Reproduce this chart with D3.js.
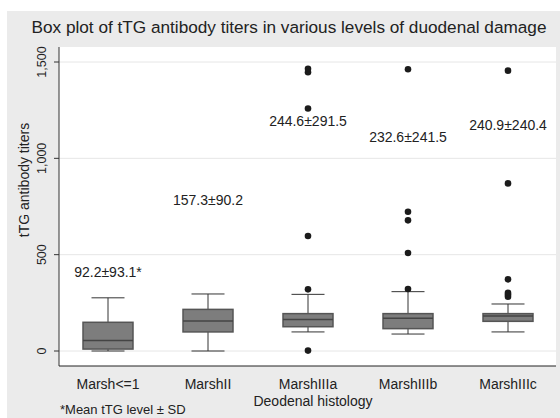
<!DOCTYPE html>
<html>
<head>
<meta charset="utf-8">
<script src="https://cdn.jsdelivr.net/npm/d3@7"></script>
<style>
  body { margin: 0; background: #fff; }
  svg { display: block; font-family: "Liberation Sans", Arial, sans-serif; }
</style>
</head>
<body>
<svg width="560" height="418"></svg>
<script>
// box plot of tTG titers by Marsh grade
var categories = ["Marsh<=1", "MarshII", "MarshIIIa", "MarshIIIb", "MarshIIIc"];
var lowWhisker = [0, 0, 99, 88, 99];
var q1 = [10, 99, 126, 116, 154];
var median = [55, 156, 164, 170, 182];
var q3 = [149, 216, 194, 194, 194];
var highWhisker = [276, 296, 294, 308, 244];
var outliers = [
  [],
  [],
  [2, 320, 597, 1259, 1447, 1465],
  [322, 509, 678, 723, 1462],
  [282, 293, 302, 372, 870, 1455]
];
var meanLabels = ["92.2\u00b193.1*", "157.3\u00b190.2", "244.6\u00b1291.5", "232.6\u00b1241.5", "240.9\u00b1240.4"];
var meanLabelAt = [410, 784, 1193, 1108, 1173];
var yTicks = [0, 500, 1000, 1500];

var svg = d3.select("svg");
var plotLeft = 59, plotRight = 556, plotTop = 47, plotBottom = 366;

// grey outer panel
svg.append("rect").attr("x", 7).attr("y", 11).attr("width", 553).attr("height", 407).attr("fill", "#ebebeb");
svg.append("rect").attr("x", plotLeft).attr("y", plotTop)
  .attr("width", plotRight - plotLeft).attr("height", plotBottom - plotTop).attr("fill", "#fff");

var x = d3.scaleBand().domain(categories).range([58, 558]).padding(0);
var y = d3.scaleLinear().domain([0, 1500]).range([351, 62]);

// gridlines
svg.append("g").selectAll("line").data(yTicks).enter().append("line")
  .attr("x1", plotLeft).attr("x2", plotRight)
  .attr("y1", function(d) { return y(d); }).attr("y2", function(d) { return y(d); })
  .attr("stroke", "#e6e6e6").attr("stroke-width", 1);

// y axis, labels turned on their side like the original
var yAxis = svg.append("g").attr("transform", "translate(" + plotLeft + ",0)")
  .call(d3.axisLeft(y).tickValues(yTicks).tickSize(5).tickPadding(6).tickFormat(d3.format(",")));
yAxis.select(".domain").attr("d", "M0," + plotTop + "V" + plotBottom).attr("stroke", "#333");
yAxis.selectAll(".tick").attr("transform", null);
yAxis.selectAll(".tick line").attr("stroke", "#333")
  .attr("y1", function(d) { return y(d); }).attr("y2", function(d) { return y(d); });
yAxis.selectAll(".tick text")
  .attr("transform", "rotate(-90)")
  .attr("x", function(d) { return -y(d); }).attr("y", -13)
  .attr("dy", 0)
  .attr("text-anchor", "middle")
  .attr("font-size", 12.5).attr("fill", "#222");

// x axis
var xAxis = svg.append("g").attr("transform", "translate(0," + plotBottom + ")")
  .call(d3.axisBottom(x).tickSize(0).tickPadding(13));
xAxis.select(".domain").attr("d", "M" + plotLeft + ",0H" + plotRight).attr("stroke", "#222");
xAxis.selectAll(".tick text").attr("font-size", 14).attr("fill", "#222");

// boxes
var cap = 33, boxW = 50;
var groups = svg.append("g").selectAll("g").data(categories).enter().append("g")
  .attr("transform", function(d) { return "translate(" + (x(d) + x.bandwidth() / 2) + ",0)"; });

groups.append("line")
  .attr("y1", function(d, i) { return y(highWhisker[i]); })
  .attr("y2", function(d, i) { return y(q3[i]); })
  .attr("stroke", "#333");
groups.append("line")
  .attr("y1", function(d, i) { return y(lowWhisker[i]); })
  .attr("y2", function(d, i) { return y(q1[i]); })
  .attr("stroke", "#333");
groups.append("line").attr("x1", -cap / 2).attr("x2", cap / 2)
  .attr("y1", function(d, i) { return y(highWhisker[i]); })
  .attr("y2", function(d, i) { return y(highWhisker[i]); })
  .attr("stroke", "#333");
groups.append("line").attr("x1", -cap / 2).attr("x2", cap / 2)
  .attr("y1", function(d, i) { return y(lowWhisker[i]); })
  .attr("y2", function(d, i) { return y(lowWhisker[i]); })
  .attr("stroke", "#333");
groups.append("rect")
  .attr("x", -boxW / 2).attr("width", boxW)
  .attr("y", function(d, i) { return y(q3[i]); })
  .attr("height", function(d, i) { return y(q1[i]) - y(q3[i]); })
  .attr("fill", "#7d7d7d").attr("stroke", "#555").attr("stroke-width", 1.5);
groups.append("line").attr("x1", -boxW / 2).attr("x2", boxW / 2)
  .attr("y1", function(d, i) { return y(median[i]); })
  .attr("y2", function(d, i) { return y(median[i]); })
  .attr("stroke", "#444").attr("stroke-width", 1.5);

// outside values
groups.selectAll("circle").data(function(d, i) { return outliers[i]; }).enter().append("circle")
  .attr("cx", 0).attr("cy", function(v) { return y(v); }).attr("r", 3.3)
  .attr("fill", "#1b1b1b");

// mean +- sd labels
groups.append("text")
  .attr("y", function(d, i) { return y(meanLabelAt[i]); })
  .attr("dy", "0.35em")
  .attr("text-anchor", "middle")
  .attr("font-size", 14).attr("fill", "#222")
  .text(function(d, i) { return meanLabels[i]; });

// titles
svg.append("text").attr("x", 289).attr("y", 33).attr("text-anchor", "middle")
  .attr("font-size", 17.2).attr("fill", "#222")
  .text("Box plot of tTG antibody titers in various levels of duodenal damage");
svg.append("text").attr("transform", "translate(29,180) rotate(-90)")
  .attr("text-anchor", "middle").attr("font-size", 14).attr("fill", "#222")
  .text("tTG antibody titers");
svg.append("text").attr("x", 313).attr("y", 406).attr("text-anchor", "middle")
  .attr("font-size", 14).attr("fill", "#222").text("Deodenal histology");
svg.append("text").attr("x", 60).attr("y", 414)
  .attr("font-size", 13).attr("fill", "#222").text("*Mean tTG level \u00b1 SD");
</script>
</body>
</html>
